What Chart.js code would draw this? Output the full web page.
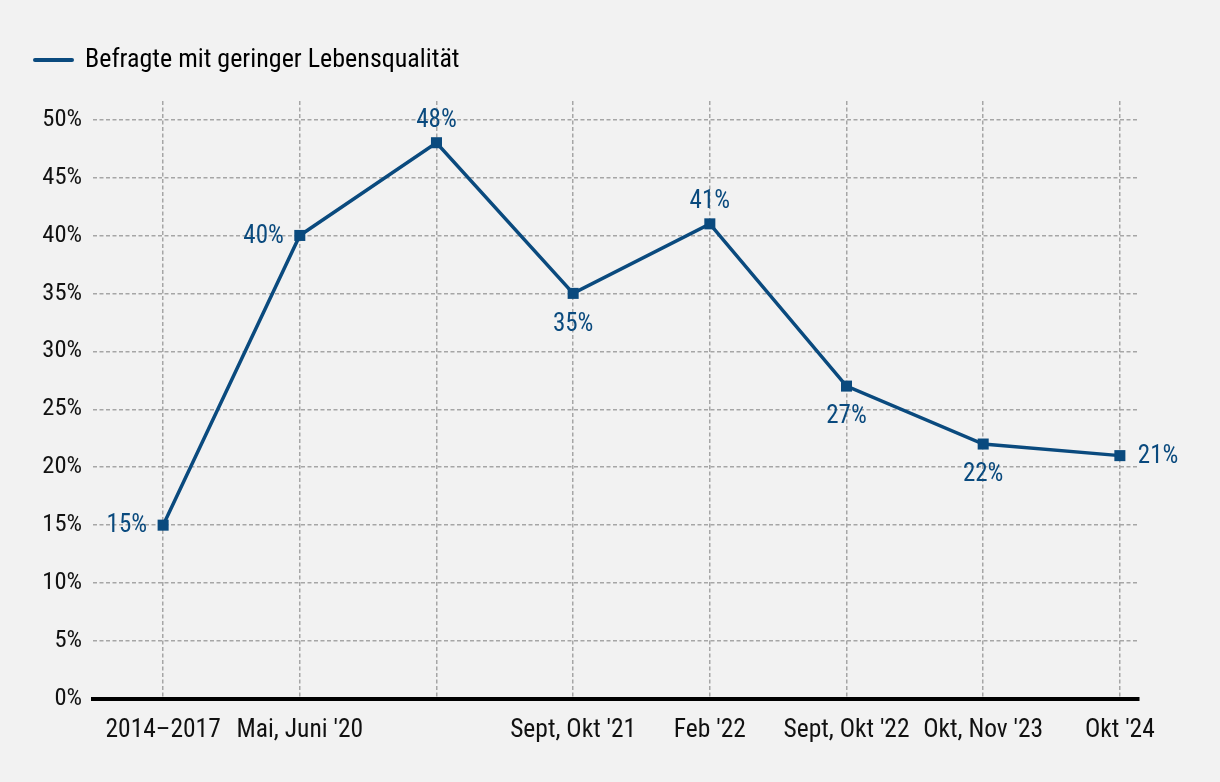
<!DOCTYPE html>
<html>
<head>
<meta charset="utf-8">
<script src="https://cdn.jsdelivr.net/npm/chart.js@4"></script>
<style>
html,body{margin:0;padding:0;background:#f2f2f2}
#wrap{width:1220px;height:782px}
</style>
</head>
<body>
<div id="wrap"><canvas id="grafico" width="1220" height="782"></canvas></div>
<script>
// data
let kategorien=['2014–2017','Mai, Juni \'20','','Sept, Okt \'21','Feb \'22','Sept, Okt \'22','Okt, Nov \'23','Okt \'24']
let werte=[15,40,48,35,41,27,22,21]
let yTicks=[0,5,10,15,20,25,30,35,40,45,50]
let serienName='Befragte mit geringer Lebensqualität'

// label placement per point
let labelPos=['left','left','top','bottom','top','bottom','bottom','right']

let blau='#0a4a7e'
let schrift='"Roboto Condensed","Liberation Sans Narrow",Roboto,sans-serif'

let punkte=werte.map((v,i)=>({x:i,y:v}))

let werteLabels={
id:'werteLabels',
afterDatasetsDraw(chart){
let ctx=chart.ctx
let meta=chart.getDatasetMeta(0)
ctx.save()
ctx.font='25px '+schrift
ctx.fillStyle=blau
meta.data.forEach((p,i)=>{
let t=werte[i]+'%'
let pos=labelPos[i]
let x=p.x,y=p.y
if(pos=='left'){ctx.textAlign='right';ctx.textBaseline='middle';x-=16}
if(pos=='right'){ctx.textAlign='left';ctx.textBaseline='middle';x+=18}
if(pos=='top'){ctx.textAlign='center';ctx.textBaseline='middle';y-=23}
if(pos=='bottom'){ctx.textAlign='center';ctx.textBaseline='middle';y+=30}
ctx.fillText(t,x,y+1)
})
ctx.restore()
}
}

let grafico=new Chart(document.getElementById('grafico'),{
type:'line',
data:{
datasets:[{
label:serienName,
data:punkte,
borderColor:blau,
backgroundColor:blau,
borderWidth:3.5,
pointStyle:'rect',
pointRadius:7.8,
pointHoverRadius:7.8,
pointBackgroundColor:blau,
pointBorderWidth:0,
tension:0
}]
},
options:{
responsive:false,
animation:false,
layout:{
padding:{left:25,right:81,top:37,bottom:0}
},
plugins:{
tooltip:{enabled:false},
// empty spacer between legend and plot
subtitle:{
display:true,
text:'',
weight:500,
font:{size:1},
padding:{top:8.4,bottom:8.4}
},
legend:{
position:'top',
align:'start',
labels:{
usePointStyle:true,
pointStyleWidth:37,
boxHeight:4,
padding:10,
color:'#111',
font:{family:schrift,size:26},
generateLabels:()=>[{
text:serienName,
pointStyle:'line',
strokeStyle:blau,
fillStyle:blau,
lineWidth:4,
lineCap:'round',
datasetIndex:0
}]
}
}
},
scales:{
x:{
type:'linear',
min:-0.513,
max:7.14,
afterBuildTicks:s=>{s.ticks=kategorien.map((k,i)=>({value:i}))},
afterFit:s=>{s.height=83},
ticks:{
callback:(v)=>kategorien[v],
color:'#111',
font:{family:schrift,size:25.5},
padding:16,
maxRotation:0,
autoSkip:false
},
grid:{
color:'#a6a6a6',
lineWidth:1.5,
drawTicks:false
},
border:{
display:true,
color:'#000',
width:4,
dash:[4,2.5]
}
},
y:{
min:0,
max:51.6,
afterBuildTicks:s=>{s.ticks=yTicks.map(v=>({value:v}))},
afterFit:s=>{s.width=68},
ticks:{
callback:v=>v+'%',
color:'#111',
font:{family:schrift,size:24.5},
padding:11
},
grid:{
color:'#a6a6a6',
lineWidth:1.5,
drawTicks:false
},
border:{
display:false,
dash:[4,2.5]
}
}
}
},
plugins:[werteLabels]
})
</script>
</body>
</html>
